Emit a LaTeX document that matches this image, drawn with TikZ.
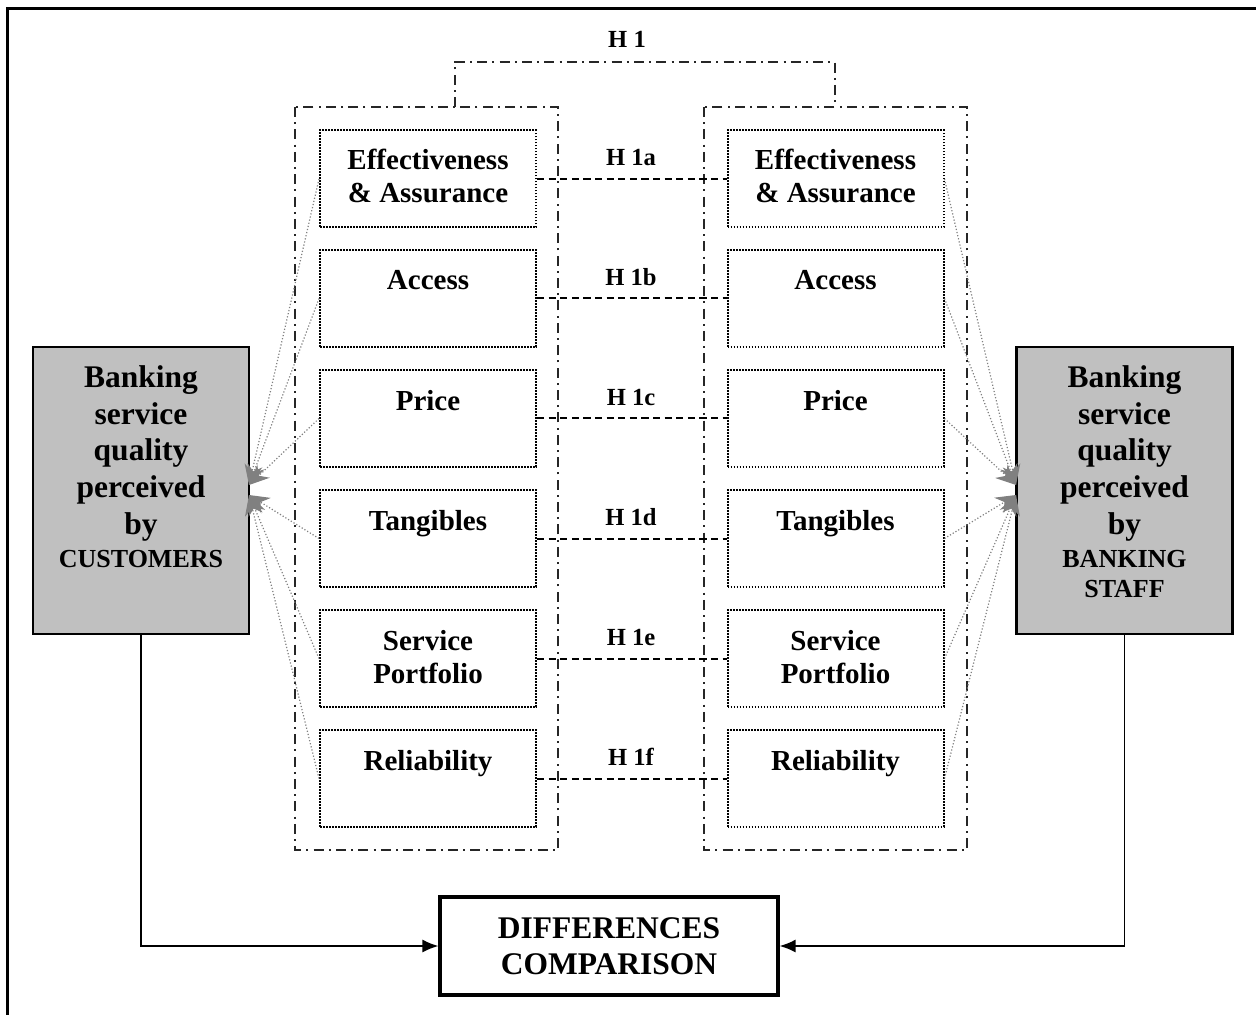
\documentclass[tikz,border=0pt]{standalone}
\usepackage{fontspec}
\setmainfont{Liberation Serif}
\usetikzlibrary{arrows.meta}
\definecolor{boxgray}{HTML}{C0C0C0}
\definecolor{arrgray}{HTML}{808080}
\begin{document}
\begin{tikzpicture}[x=0.5pt,y=-0.5pt,
  fbox/.style={draw, line width=1pt, dash pattern=on 0.8pt off 0.7pt, minimum width=108pt, minimum height=48.5pt, inner sep=0pt},
  ftext/.style={font=\bfseries\fontsize{14.5}{16.5}\selectfont, align=center, anchor=base, inner sep=0pt},
  cont/.style={draw=black!85, line width=1.3pt, dash pattern=on 5pt off 2.6pt on 1pt off 2.6pt},
  hline/.style={draw, line width=1pt, dash pattern=on 3.6pt off 2.2pt},
  hlab/.style={font=\bfseries\fontsize{12.3}{14}\selectfont, anchor=base, inner sep=0pt},
  gbox/.style={draw, line width=1.1pt, fill=boxgray, minimum width=108pt, minimum height=143.5pt, inner sep=0pt},
  gtext/.style={font=\bfseries\fontsize{15.75}{18.3}\selectfont, align=center, anchor=base, inner sep=0pt},
  ctext/.style={font=\bfseries\fontsize{13}{15}\selectfont, anchor=base, inner sep=0pt},
  garrow/.style={draw=arrgray, line width=0.6pt, dash pattern=on 0.6pt off 1pt, -{Stealth[length=10pt,width=9pt,color=arrgray,fill=arrgray]}},
  barrow/.style={draw, line width=0.8pt, -{Latex[length=8pt,width=6.5pt]}}
]
\useasboundingbox (0,0) rectangle (1256,1015);
% outer frame (only left and top visible)
\draw[line width=1.5pt] (7.5,1015) -- (7.5,9) -- (1256,9);

% containers
\draw[cont] (295,107) rectangle (558,850);
\draw[cont] (704,107) rectangle (967,850);
% H1 bracket
\coordinate (hA) at (455,107);
\coordinate (hB) at (835,107);
\draw[cont] (hA) -- (455,62) -- (835,62) -- (hB);
\node[hlab] (h1) at (627,48) {H 1};

% factor boxes
\foreach \i/\y in {1/179, 2/298.5, 3/418.5, 4/538.5, 5/658.5, 6/778.5} {
  \node[fbox] (l\i) at (428,\y) {};
  \node[fbox] (r\i) at (835.5,\y) {};
}
\node[ftext] (lt1) at (428,203) {Effectiveness\\\& Assurance};
\node[ftext] (rt1) at (835.5,203) {Effectiveness\\\& Assurance};
\node[ftext] (lt2) at (428,290) {Access};
\node[ftext] (rt2) at (835.5,290) {Access};
\node[ftext] (lt3) at (428,410) {Price};
\node[ftext] (rt3) at (835.5,410) {Price};
\node[ftext] (lt4) at (428,530) {Tangibles};
\node[ftext] (rt4) at (835.5,530) {Tangibles};
\node[ftext] (lt5) at (428,683) {Service\\Portfolio};
\node[ftext] (rt5) at (835.5,683) {Service\\Portfolio};
\node[ftext] (lt6) at (428,770) {Reliability};
\node[ftext] (rt6) at (835.5,770) {Reliability};

% hypothesis dashed links
\foreach \i in {1,...,6} {
  \draw[hline] (l\i.east) -- (r\i.west);
}
\node[hlab] (ha) at (631,166) {H 1a};
\node[hlab] (hb) at (631,285.5) {H 1b};
\node[hlab] (hc) at (631,405.5) {H 1c};
\node[hlab] (hd) at (631,525.5) {H 1d};
\node[hlab] (he) at (631,645.5) {H 1e};
\node[hlab] (hf) at (631,765.5) {H 1f};

% grey boxes
\node[gbox] (gl) at (141,490.5) {};
\node[gbox] (gr) at (1124.5,490.5) {};
\node[gtext] (glt) at (141,534) {Banking\\service\\quality\\perceived\\by};
\node[ctext] (glc) at (141,567) {CUSTOMERS};
\node[gtext] (grt) at (1124.5,534) {Banking\\service\\quality\\perceived\\by};
\node[ctext] (grc) at (1124.5,567) {BANKING};
\node[ctext] (grs) at (1124.5,597) {STAFF};

% converging arrows
\coordinate (gla) at (249,485);
\coordinate (glb) at (249,495);
\coordinate (gra) at (1016,485);
\coordinate (grb) at (1016,495);
\foreach \i in {1,2,3} {
  \draw[garrow] (l\i.west) -- (gla);
  \draw[garrow] (r\i.east) -- (gra);
}
\foreach \i in {4,5,6} {
  \draw[garrow] (l\i.west) -- (glb);
  \draw[garrow] (r\i.east) -- (grb);
}

% differences box
\node[draw, line width=1.6pt, minimum width=169pt, minimum height=49pt, inner sep=0pt,
      font=\bfseries\fontsize{15.75}{18}\selectfont, align=center] (diff) at (609,946) {DIFFERENCES\\COMPARISON};
\draw[barrow] (gl.south) |- (diff.west);
\draw[barrow] (gr.south) |- (diff.east);
\end{tikzpicture}
\end{document}
